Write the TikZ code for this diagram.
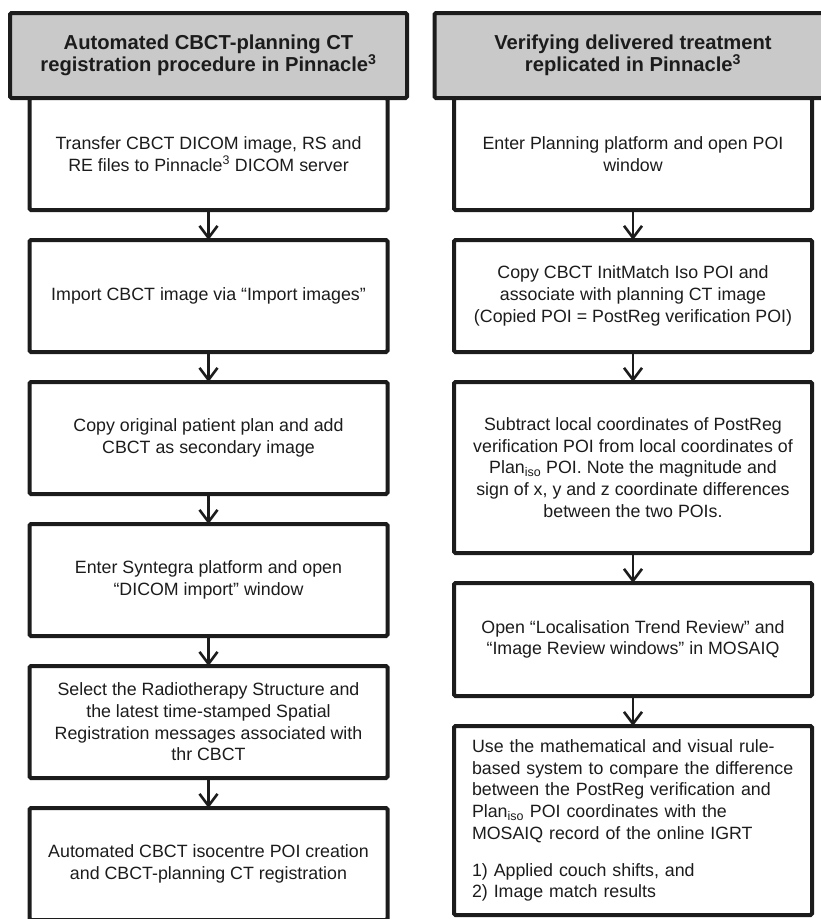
\documentclass[tikz,border=0pt]{standalone}
\usepackage{fontspec}
\setmainfont{Liberation Sans}
\usetikzlibrary{positioning,arrows.meta}
\definecolor{headgray}{RGB}{201,201,201}
\definecolor{inkgray}{RGB}{28,28,28}
\tikzset{
	head/.style={draw=inkgray,fill=headgray,line width=4pt,rounded corners=1.5pt,minimum width=397pt,minimum height=85pt,align=center,outer sep=0pt,text=inkgray,font=\bfseries\fontsize{20.2}{22.5}\selectfont},
	stepbox/.style={draw=inkgray,fill=white,line width=4pt,rounded corners=1.5pt,minimum width=358pt,minimum height=112pt,align=center,outer sep=0pt,text=inkgray,font=\fontsize{17.8}{21.7}\selectfont},
	flow/.style={draw=inkgray,line width=2.6pt,-{Straight Barb[length=12pt,width=18pt]}}
}
\begin{document}
\begin{tikzpicture}[x=1pt,y=-1pt]
		\useasboundingbox (0,0) rectangle (820,919);
		% left column
		\node[head] (lhead) at (208.5,55.5) {Automated CBCT-planning CT\\registration procedure in Pinnacle\textsuperscript{3}};
		\node[stepbox,below=0pt of lhead] (l1) {Transfer CBCT DICOM image, RS and\\RE files to Pinnacle\textsuperscript{3} DICOM server};
		\node[stepbox,below=30pt of l1] (l2) {Import CBCT image via “Import images”};
		\node[stepbox,below=30pt of l2] (l3) {Copy original patient plan and add\\CBCT as secondary image};
		\node[stepbox,below=30pt of l3] (l4) {Enter Syntegra platform and open\\“DICOM import” window};
		\node[stepbox,below=30pt of l4] (l5) {Select the Radiotherapy Structure and\\the latest time-stamped Spatial\\Registration messages associated with\\thr CBCT};
		\node[stepbox,below=30pt of l5] (l6) {Automated CBCT isocentre POI creation\\and CBCT-planning CT registration};
		% right column
		\node[head] (rhead) at (633,55.5) {Verifying delivered treatment\\replicated in Pinnacle\textsuperscript{3}};
		\node[stepbox,below=0pt of rhead] (r1) {Enter Planning platform and open POI\\window};
		\node[stepbox,below=30pt of r1] (r2) {Copy CBCT InitMatch Iso POI and\\associate with planning CT image\\(Copied POI = PostReg verification POI)};
		\node[stepbox,below=30pt of r2,minimum height=171pt] (r3) {Subtract local coordinates of PostReg\\verification POI from local coordinates of\\Plan\textsubscript{iso} POI. Note the magnitude and\\sign of x, y and z coordinate differences\\between the two POIs.};
		\node[stepbox,below=30pt of r3,minimum height=113pt] (r4) {Open “Localisation Trend Review” and\\“Image Review windows” in MOSAIQ};
		\node[stepbox,below=30pt of r4,minimum height=189pt,align=left,text width=322pt] (r5) {Use the mathematical and visual rule-\\based system to compare the difference\\between the PostReg verification and\\Plan\textsubscript{iso} POI coordinates with the\\MOSAIQ record of the online IGRT\\[15pt]1) Applied couch shifts, and\\2) Image match results};
		\foreach \a/\b in {l1/l2,l2/l3,l3/l4,l4/l5,l5/l6,r1/r2,r2/r3,r3/r4,r4/r5}
			\draw[flow] (\a.south) -- (\b.north);
\end{tikzpicture}
\end{document}
